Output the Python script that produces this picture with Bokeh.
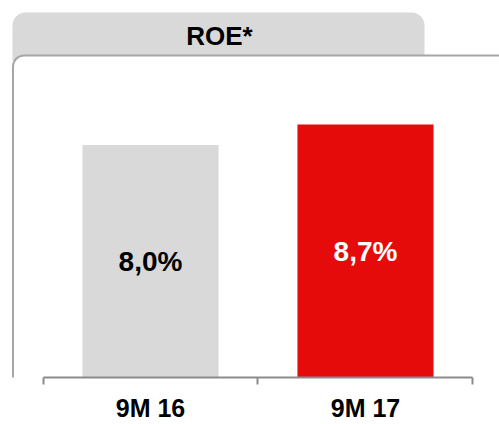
from bokeh.plotting import figure
from bokeh.models import (ColumnDataSource, Range1d, LinearAxis, FixedTicker,
                          BoxAnnotation, Label)
from bokeh.core.properties import value
from bokeh.embed import file_html
from bokeh.resources import INLINE

# ---- data ----
categories = ["9M 16", "9M 17"]
values = [8.0, 8.7]
value_labels = ["8,0%", "8,7%"]
bar_colors = ["#d9d9d9", "#e50b0b"]
label_colors = ["#000000", "#ffffff"]
title_text = "ROE*"

FONT = "Liberation Sans"
xpos = list(range(len(categories)))

src = ColumnDataSource(dict(
    x=xpos, top=values, mid=[v / 2 for v in values], label=value_labels,
    color=bar_colors, lcolor=label_colors,
))

p = figure(width=499, height=424, output_backend="svg", toolbar_location=None,
           x_range=Range1d(-0.6977, 1.6233), y_range=Range1d(0, 12.967),
           x_axis_location=None, y_axis_location=None,
           min_border_left=0, min_border_right=0, min_border_top=0,
           min_border_bottom=46)
p.outline_line_color = None
p.xgrid.visible = False
p.ygrid.visible = False
p.background_fill_color = "white"
p.border_fill_color = "white"

# decorations: tab and panel (canvas units)
tab = BoxAnnotation(left=12, right=424, top=12, bottom=60,
                    left_units="canvas", right_units="canvas",
                    top_units="canvas", bottom_units="canvas",
                    fill_color="#d9d9d9", fill_alpha=1.0, line_color=None,
                    border_radius=dict(top_left=13, top_right=13, bottom_right=0, bottom_left=0),
                    level="underlay", editable=False)
panel = BoxAnnotation(left=12.5, right=530, top=55, bottom=422.5,
                      left_units="canvas", right_units="canvas",
                      top_units="canvas", bottom_units="canvas",
                      fill_color="white", fill_alpha=1.0,
                      line_color="#a6a6a6", line_width=2, line_alpha=1.0,
                      border_radius=dict(top_left=11, top_right=0, bottom_right=0, bottom_left=9),
                      level="underlay", editable=False)
p.add_layout(tab)
p.add_layout(panel)

p.add_layout(Label(x=219, y=35.5, x_units="canvas", y_units="canvas",
                   text=title_text, text_font=FONT, text_font_style="bold",
                   text_font_size="26px", text_align="center",
                   text_baseline="middle", text_color="#000000"))

p.vbar(x="x", top="top", bottom=0, width=0.633, source=src,
       fill_color="color", line_color=None)
p.text(x="x", y="mid", text="label", source=src, text_color="lcolor",
       text_font=value(FONT), text_font_style="bold", text_font_size="28px",
       text_align="center", text_baseline="middle")

ax = LinearAxis(ticker=FixedTicker(ticks=xpos, minor_ticks=[-0.5, 0.5, 1.5]),
                major_label_overrides={i: c for i, c in zip(xpos, categories)},
                bounds=(-0.5, 1.5))
ax.axis_line_color = "#8c8c8c"
ax.axis_line_width = 2
ax.major_tick_line_color = None
ax.major_tick_out = 0
ax.major_tick_in = 0
ax.minor_tick_line_color = "#8c8c8c"
ax.minor_tick_line_width = 2
ax.minor_tick_out = 7
ax.minor_tick_in = 0
ax.major_label_standoff = 9
ax.major_label_text_font = FONT
ax.major_label_text_font_style = "bold"
ax.major_label_text_font_size = "25px"
ax.major_label_text_color = "#000000"
p.add_layout(ax, "below")

open("out.html", "w").write(file_html(p, INLINE))
